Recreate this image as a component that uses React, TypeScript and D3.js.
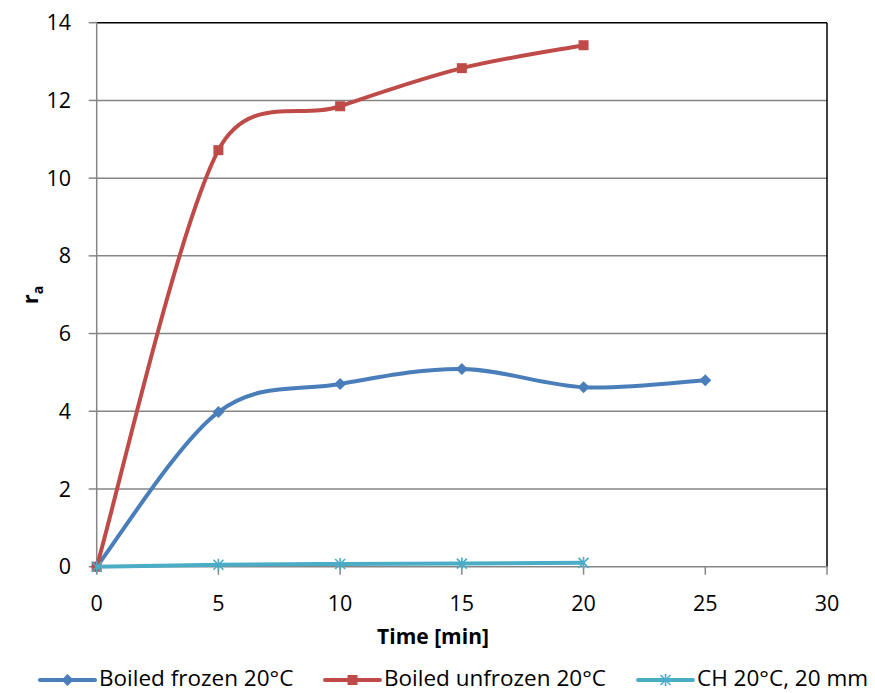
import React from "react";
import * as d3 from "d3";

const times = [0, 5, 10, 15, 20, 25];
const boiledFrozen = [0, 3.98, 4.7, 5.09, 4.62, 4.8];
const boiledUnfrozen = [0, 10.72, 11.85, 12.83, 13.42];
const ch = [0, 0.05, 0.07, 0.08, 0.1];
const xTicks = [0, 5, 10, 15, 20, 25, 30];
const yTicks = [0, 2, 4, 6, 8, 10, 12, 14];
const seriesNames = ["Boiled frozen 20°C", "Boiled unfrozen 20°C", "CH 20°C, 20 mm"];
const seriesColors = ["#4A7EBB", "#BE4B48", "#4BACC6"];

const FONT = "'Open Sans', sans-serif";

// Excel-style smoothed line built with d3.path from pixel points
function excelSmooth(pts: [number, number][]): string {
  const p = d3.path();
  const n = pts.length;
  if (!n) return "";
  p.moveTo(pts[0][0], pts[0][1]);
  const dist = (a: [number, number], b: [number, number]) => Math.hypot(a[0] - b[0], a[1] - b[1]);
  for (let i = 0; i < n - 1; i++) {
    const P1 = pts[i];
    const P2 = pts[i + 1];
    const P0 = i > 0 ? pts[i - 1] : P1;
    const P3 = i + 2 < n ? pts[i + 2] : P2;
    const d12 = dist(P1, P2);
    const d02 = dist(P0, P2);
    const d13 = dist(P1, P3);
    let f0 = 1 / 6, f1 = 1 / 6;
    if (d02 / 6 >= d12 / 2 && d02 > 0) f0 = d12 / (2 * d02);
    if (d13 / 6 >= d12 / 2 && d13 > 0) f1 = d12 / (2 * d13);
    const c1x = P1[0] + (P2[0] - P0[0]) * f0;
    const c1y = P1[1] + (P2[1] - P0[1]) * f0;
    const c2x = P2[0] - (P3[0] - P1[0]) * f1;
    const c2y = P2[1] - (P3[1] - P1[1]) * f1;
    p.bezierCurveTo(c1x, c1y, c2x, c2y, P2[0], P2[1]);
  }
  return p.toString();
}

function Marker({ kind, x, y, color }: { kind: number; x: number; y: number; color: string }) {
  if (kind === 0) {
    const s = 6;
    return <path d={`M${x},${y - s}L${x + s},${y}L${x},${y + s}L${x - s},${y}Z`} fill={color} />;
  }
  if (kind === 1) {
    return <rect x={x - 5} y={y - 5} width={10} height={10} fill={color} />;
  }
  const s = 5;
  return (
    <g stroke={color} strokeWidth={1.6}>
      <line x1={x - s} y1={y - s} x2={x + s} y2={y + s} />
      <line x1={x - s} y1={y + s} x2={x + s} y2={y - s} />
      <line x1={x} y1={y - s - 1} x2={x} y2={y + s + 1} />
    </g>
  );
}

export default function App() {
  const W = 875, H = 693;
  const left = 96.7, right = 827, top = 22.7, bottom = 566.7;
  const x = d3.scaleLinear().domain([0, 30]).range([left, right]);
  const y = d3.scaleLinear().domain([0, 14]).range([bottom, top]);
  const series = [boiledFrozen, boiledUnfrozen, ch];

  const legendX = [40, 325, 638];

  return (
    <svg width={W} height={H} style={{ position: "absolute", left: 0, top: 0 }} fontFamily={FONT}>
      <rect width={W} height={H} fill="#fff" />
      {yTicks.map((t) =>
        t === 0 || t === 14 ? null : (
          <line key={t} x1={left} x2={right} y1={y(t)} y2={y(t)} stroke="#868686" strokeWidth={1.5} />
        )
      )}
      <line x1={left} x2={right} y1={top} y2={top} stroke="#000" strokeWidth={1.5} />
      <line x1={right} x2={right} y1={top} y2={bottom} stroke="#000" strokeWidth={1.5} />
      <line x1={left} x2={left} y1={top} y2={bottom} stroke="#868686" strokeWidth={1.5} />
      <line x1={left} x2={right} y1={bottom} y2={bottom} stroke="#868686" strokeWidth={1.5} />
      {yTicks.map((t) => (
        <g key={t}>
          <line x1={left - 8} x2={left} y1={y(t)} y2={y(t)} stroke="#868686" strokeWidth={1.5} />
          <text x={71} y={y(t)} dy="0.35em" textAnchor="end" fontSize={21.5}>
            {t}
          </text>
        </g>
      ))}
      {xTicks.map((t) => (
        <g key={t}>
          <line x1={x(t)} x2={x(t)} y1={bottom} y2={bottom + 8} stroke="#868686" strokeWidth={1.5} />
          <text x={x(t)} y={603} dy="0.35em" textAnchor="middle" fontSize={21.5}>
            {t}
          </text>
        </g>
      ))}
      <text x={433} y={637} dy="0.35em" textAnchor="middle" fontSize={21} fontWeight="bold">
        Time [min]
      </text>
      <text transform="translate(38,295) rotate(-90)" textAnchor="middle" fontSize={22} fontWeight="bold">
        r<tspan fontSize={14} dy={5}>a</tspan>
      </text>
      {series.map((vals, i) => {
        const pts = vals.map((v, j) => [x(times[j]), y(v)] as [number, number]);
        return (
          <g key={i}>
            <path d={excelSmooth(pts)} fill="none" stroke={seriesColors[i]} strokeWidth={4} strokeLinejoin="round" />
            {pts.map((p, j) => (
              <Marker key={j} kind={i} x={p[0]} y={p[1]} color={seriesColors[i]} />
            ))}
          </g>
        );
      })}
      {seriesNames.map((n, i) => (
        <g key={n}>
          <line x1={legendX[i]} x2={legendX[i] + 55} y1={680} y2={680} stroke={seriesColors[i]} strokeWidth={4} strokeLinecap="round" />
          <Marker kind={i} x={legendX[i] + 27.5} y={680} color={seriesColors[i]} />
          <text x={legendX[i] + 59} y={686} fontSize={22.5}>
            {n}
          </text>
        </g>
      ))}
    </svg>
  );
}
